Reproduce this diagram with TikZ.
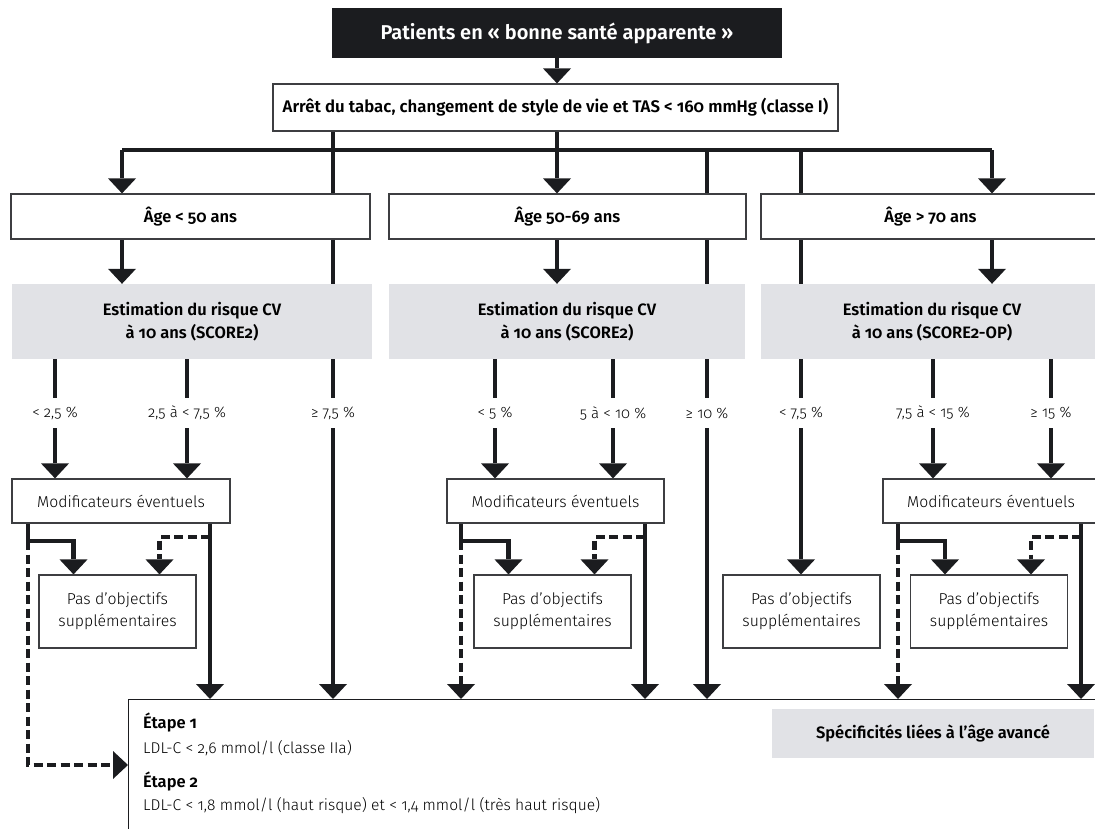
\documentclass[tikz,border=0pt]{standalone}
\usepackage{fontspec}
\setmainfont{Fira Sans}[Numbers=OldStyle,UprightFont=* Light,BoldFont=* SemiBold]
\usetikzlibrary{arrows.meta,backgrounds}
\definecolor{ink}{HTML}{1B1C1F}
\definecolor{panel}{HTML}{E1E2E6}
\tikzset{
  box/.style={draw=ink!85,line width=1.2pt,fill=white,inner sep=0pt,align=center,
    font=\fontsize{16.5}{20}\selectfont\bfseries},
  est/.style={fill=panel,inner sep=0pt,align=center,font=\fontsize{16.5}{23}\selectfont\bfseries},
  pbox/.style={box,font=\fontsize{15.8}{22}\selectfont},
  flow/.style={draw=ink,line width=4.5pt},
  arr/.style={flow,-{Triangle[width=28pt,length=15pt,line width=0pt]}},
  darr/.style={arr,dash pattern=on 9pt off 4.5pt},
  pct/.style={font=\fontsize{15}{17}\selectfont,inner sep=0pt,minimum height=30pt}
}
\begin{document}
\begin{tikzpicture}[x=1pt,y=-1pt]
\useasboundingbox (0,0) rectangle (1095,828);
\clip (0,0) rectangle (1095,828);

\node[fill=ink,text=white,font=\fontsize{20}{22}\selectfont\bfseries,minimum width=450pt,minimum height=50pt] (top) at (557,33) {Patients en « bonne santé apparente »};
\node[box,minimum width=565pt,minimum height=47pt,font=\fontsize{16.8}{20}\selectfont\bfseries] (act) at (555.5,107.5) {Arrêt du tabac, changement de style de vie et TAS < 160 mmHg (classe I)};

% age groups
\node[box,minimum width=359pt,minimum height=45pt] (age1) at (190.5,216.5) {Âge < 50 ans};
\node[box,minimum width=357pt,minimum height=45pt] (age2) at (567.5,216.5) {Âge 50-69 ans};
\node[box,minimum width=339pt,minimum height=45pt] (age3) at (930.5,216.5) {Âge > 70 ans};

\node[est,minimum width=360pt,minimum height=75pt] (est1) at (192,321.5) {Estimation du risque CV\\à 10 ans (SCORE2)};
\node[est,minimum width=356pt,minimum height=75pt] (est2) at (567,321.5) {Estimation du risque CV\\à 10 ans (SCORE2)};
\node[est,minimum width=342pt,minimum height=75pt] (est3) at (932,321.5) {Estimation du risque CV\\à 10 ans (SCORE2-OP)};

\foreach \x/\t [count=\i] in {55/{< 2,5 \%},187/{2,5 à < 7,5 \%},333/{≥ 7,5 \%},
    495/{< 5 \%},613/{5 à < 10 \%},707/{≥ 10 \%},
    801/{< 7,5 \%},933/{7,5 à < 15 \%},1051/{≥ 15 \%}}
  \node[pct] (p\i) at (\x,413) {\t};

\node[pbox,minimum width=218pt,minimum height=44pt] (mod1) at (121,501) {Modificateurs éventuels};
\node[pbox,minimum width=217pt,minimum height=44pt] (mod2) at (555.5,501) {Modificateurs éventuels};
\node[pbox,minimum width=216pt,minimum height=44pt] (mod3) at (991,501) {Modificateurs éventuels};

\foreach \x [count=\i] in {117.5,552.5,801.5,989}
  \node[pbox,minimum width=157pt,minimum height=73pt] (pas\i) at (\x,611.5) {Pas d’objectifs\\supplémentaires};

% targets
\node[draw=ink,line width=1.2pt,fill=white,minimum width=1000pt,minimum height=200pt,anchor=north west] (goal) at (128,699) {};
\node[est,minimum width=322pt,minimum height=49pt] (spec) at (933,733.5) {Spécificités liées à l’âge avancé};
\node[anchor=west,inner sep=0pt,font=\fontsize{16.5}{18}\selectfont\bfseries] (s1) at (143,723) {Étape 1};
\node[anchor=west,inner sep=0pt,font=\fontsize{15.6}{18}\selectfont] (l1) at (143,748) {LDL-C < 2,6 mmol/l (classe IIa)};
\node[anchor=west,inner sep=0pt,font=\fontsize{16.5}{18}\selectfont\bfseries] (s2) at (143,782) {Étape 2};
\node[anchor=west,inner sep=0pt,font=\fontsize{15.6}{18}\selectfont] (l2) at (143,806) {LDL-C < 1,8 mmol/l (haut risque) et < 1,4 mmol/l (très haut risque)};

\coordinate (busL) at (122,150);
\coordinate (busR) at (992,150);
\coordinate (m1d) at (28,765);
\coordinate (m1l) at (28,541);   \coordinate (m1r) at (210,537);
\coordinate (m2l) at (461,541);  \coordinate (m2r) at (645,537);
\coordinate (m3l) at (898,541);  \coordinate (m3r) at (1081,537);

\begin{scope}[on background layer]
\draw[arr] (top) -- (top.south |- act.north);
\draw[flow] (busL) -- (busR);
\draw[arr] (act.south -| top.south) -- (age2.north -| top.south);
\draw[flow] (act.south -| p3) -- (p3.north);
\draw[flow] (busL -| p6) -- (p6.north);
\draw[flow] (busL -| p7) -- (p7.north);
\draw[arr] (busL) -- (busL |- age1.north);
\draw[arr] (busR) -- (busR |- age3.north);
\draw[arr] (age1.south -| busL) -- (est1.north -| busL);
\draw[arr] (age2.south -| top.south) -- (est2.north -| top.south);
\draw[arr] (age3.south -| busR) -- (est3.north -| busR);

\foreach \i in {1,2,4,5,8,9}
  \draw[flow] (est1.south -| p\i) -- (p\i.north);
\foreach \i/\m in {1/mod1,2/mod1,4/mod2,5/mod2,8/mod3,9/mod3}
  \draw[arr] (p\i.south) -- (p\i.south |- \m.north);
\draw[arr] (p3.south) -- (p3.south |- goal.north);
\draw[arr] (p6.south) -- (p6.south |- goal.north);
\draw[arr] (p7.south) -- (p7.south |- pas3.north);

\foreach \g/\p in {1/1,2/2,3/4} {
  \draw[arr] (m\g l |- mod\g.south) -- (m\g l) -| ([xshift=-44pt]pas\p.north);
  \draw[arr] (m\g r |- mod\g.south) -- (m\g r |- goal.north);
  \draw[darr] (m\g r) -| ([xshift=42pt]pas\p.north);
}
\draw[darr] (m1l) -- (m1d) -- (m1d -| goal.west);
\draw[darr] (m2l) -- (m2l |- goal.north);
\draw[darr] (m3l) -- (m3l |- goal.north);
\end{scope}
\end{tikzpicture}
\end{document}
